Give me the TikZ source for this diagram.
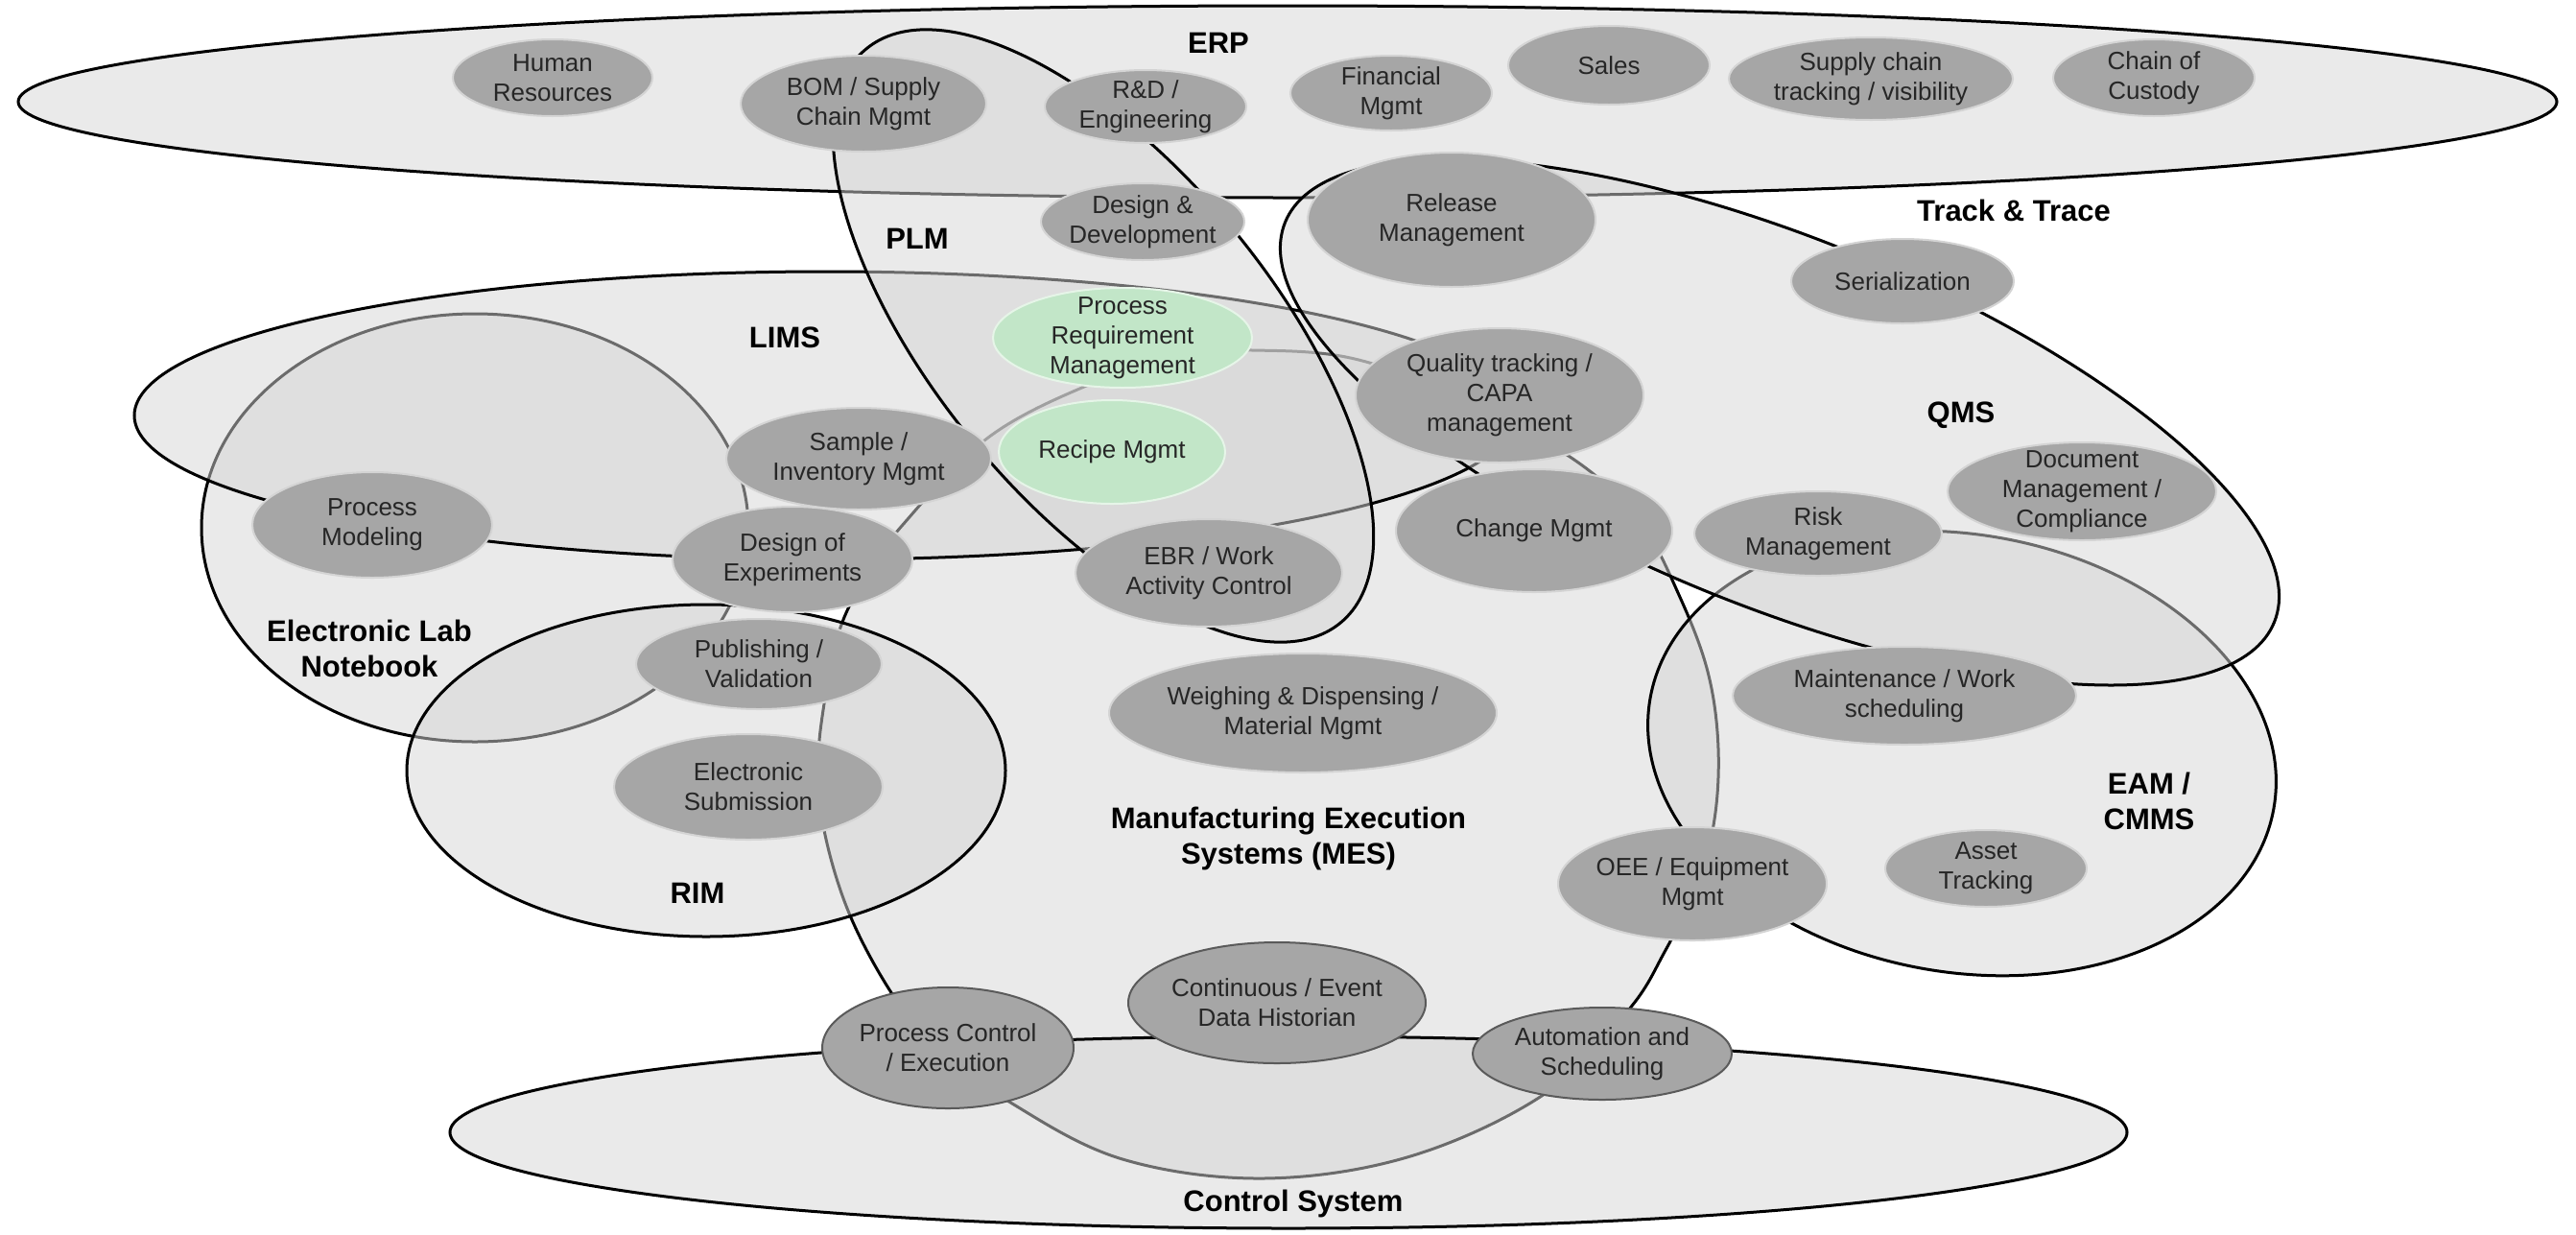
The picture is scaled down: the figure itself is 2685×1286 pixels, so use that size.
\documentclass[tikz,border=0pt]{standalone}
\usepackage{fontspec}
\setmainfont{Liberation Sans}
\usetikzlibrary{shapes.geometric}

\definecolor{zonefill}{HTML}{D6D6D6}
\definecolor{bubblefill}{HTML}{A6A6A6}
\definecolor{bubbleedge}{HTML}{D4D4D4}
\definecolor{greenfill}{HTML}{C2E6C8}
\definecolor{greenedge}{HTML}{E6F5E8}
\definecolor{darkedge}{HTML}{5A5A5A}
\definecolor{bubbletext}{HTML}{262626}

\begin{document}
\begin{tikzpicture}[x=1pt, y=-1pt,
  zone/.style={draw=black, line width=3pt, fill=zonefill, fill opacity=0.5},
  bubble/.style n args={2}{ellipse, inner sep=0pt, minimum width=2*#1, minimum height=2*#2,
    fill=bubblefill, draw=bubbleedge, line width=2pt},
  greenbubble/.style={fill=greenfill, draw=greenedge},
  ctrlbubble/.style={draw=darkedge},
  btext/.style={align=center, inner sep=0pt, text=bubbletext, font=\fontsize{26}{31}\selectfont},
  zonelabel/.style={align=center, inner sep=0pt, text=black, font=\fontsize{31}{37}\selectfont\bfseries},
]
\useasboundingbox (0,0) rectangle (2685,1286);
\fill[white] (0,0) rectangle (2685,1286);

% ---- system zones, back to front ----
% Manufacturing Execution Systems
\filldraw[zone] plot[smooth cycle, tension=0.6] coordinates {
  (1030,456) (1137,400) (1230,370) (1305,365) (1412,374) (1530,418) (1645,482)
  (1710,545) (1750,620) (1780,700) (1791,780) (1786,860) (1765,930) (1735,992)
  (1697,1053) (1610,1140) (1470,1205) (1317,1228) (1170,1208) (1055,1150)
  (975,1090) (930,1036) (886,954) (860,870) (853,800) (858,740) (874,660)
  (900,605) (940,548)};
% Electronic Lab Notebook
\filldraw[zone] (495,550) ellipse [x radius=285, y radius=223];
% LIMS
\filldraw[zone] (860,433) ellipse [x radius=720, y radius=150];
% ERP
\filldraw[zone] (1342,106) ellipse [x radius=1323, y radius=100];
% PLM
\filldraw[zone, rotate around={-50.4:(1150,350)}] (1150,350) ellipse [x radius=388, y radius=175];
% RIM
\filldraw[zone] (736,803) ellipse [x radius=312, y radius=173];
% EAM / CMMS
\filldraw[zone, rotate around={-10:(2045,785)}] (2045,785) ellipse [x radius=330, y radius=228];
% Track & Trace / QMS
\filldraw[zone, rotate around={-22:(1855,440)}] (1855,440) ellipse [x radius=556, y radius=192];
% Control System
\filldraw[zone] (1343,1180) ellipse [x radius=874, y radius=100];

% ---- zone labels ----
\node[zonelabel] (lerp) at (1270,45) {ERP};
\node[zonelabel] (lplm) at (956,249) {PLM};
\node[zonelabel] (llims) at (818,352) {LIMS};
\node[zonelabel] (leln) at (385,676) {Electronic Lab\\Notebook};
\node[zonelabel] (lrim) at (727,931) {RIM};
\node[zonelabel] (lmes) at (1343,874) {Manufacturing Execution\\Systems (MES)};
\node[zonelabel] (lctrl) at (1348,1254) {Control System};
\node[zonelabel] (ltt) at (2099,219) {Track \& Trace};
\node[zonelabel] (lqms) at (2044,433) {QMS};
\node[zonelabel] (leam) at (2240,835) {EAM /\\CMMS};

% ---- functions ----
\node[bubble={104}{40}] (hr) at (576,81) {};
\node[btext] (hr-t) at (hr) {Human\\Resources};
\node[bubble={128}{50}] (bom) at (900,108) {};
\node[btext] (bom-t) at (bom) {BOM / Supply\\Chain Mgmt};
\node[bubble={105}{38}] (rnd) at (1194,111) {};
\node[btext] (rnd-t) at (rnd) {R\&D /\\Engineering};
\node[bubble={105}{39}] (fin) at (1450,97) {};
\node[btext] (fin-t) at (fin) {Financial\\Mgmt};
\node[bubble={105}{41}] (sales) at (1677,68) {};
\node[btext] (sales-t) at (sales) {Sales};
\node[bubble={148}{43}] (sct) at (1950,82) {};
\node[btext] (sct-t) at (sct) {Supply chain\\tracking / visibility};
\node[bubble={105}{40}] (coc) at (2245,81) {};
\node[btext] (coc-t) at (coc) {Chain of\\Custody};
\node[bubble={106}{40}] (dd) at (1191,231) {};
\node[btext] (dd-t) at (dd) {Design \&\\Development};
\node[bubble={150}{70}] (rel) at (1513,229) {};
\node[btext] (rel-t) at (rel) {Release\\Management};
\node[bubble={116}{44}] (ser) at (1983,293) {};
\node[btext] (ser-t) at (ser) {Serialization};
\node[bubble={135}{52}, greenbubble] (prm) at (1170,352) {};
\node[btext] (prm-t) at (prm) {Process\\Requirement\\Management};
\node[bubble={118}{54}, greenbubble] (rec) at (1159,471) {};
\node[btext] (rec-t) at (rec) {Recipe Mgmt};
\node[bubble={150}{70}] (qt) at (1563,412) {};
\node[btext] (qt-t) at (qt) {Quality tracking /\\CAPA\\management};
\node[bubble={138}{53}] (si) at (895,478) {};
\node[btext] (si-t) at (si) {Sample /\\Inventory Mgmt};
\node[bubble={125}{55}] (pm) at (388,547) {};
\node[btext] (pm-t) at (pm) {Process\\Modeling};
\node[bubble={125}{55}] (doe) at (826,583) {};
\node[btext] (doe-t) at (doe) {Design of\\Experiments};
\node[bubble={139}{56}] (ebr) at (1260,597) {};
\node[btext] (ebr-t) at (ebr) {EBR / Work\\Activity Control};
\node[bubble={144}{64}] (cm) at (1599,553) {};
\node[btext] (cm-t) at (cm) {Change Mgmt};
\node[bubble={129}{44}] (risk) at (1895,556) {};
\node[btext] (risk-t) at (risk) {Risk\\Management};
\node[bubble={140}{51}] (doc) at (2170,512) {};
\node[btext] (doc-t) at (doc) {Document\\Management /\\Compliance};
\node[bubble={179}{51}] (mw) at (1985,725) {};
\node[btext] (mw-t) at (mw) {Maintenance / Work\\scheduling};
\node[bubble={105}{40}] (asset) at (2070,905) {};
\node[btext] (asset-t) at (asset) {Asset\\Tracking};
\node[bubble={140}{59}] (oee) at (1764,921) {};
\node[btext] (oee-t) at (oee) {OEE / Equipment\\Mgmt};
\node[bubble={202}{62}] (wd) at (1358,743) {};
\node[btext] (wd-t) at (wd) {Weighing \& Dispensing /\\Material Mgmt};
\node[bubble={128}{47}] (pub) at (791,692) {};
\node[btext] (pub-t) at (pub) {Publishing /\\Validation};
\node[bubble={140}{55}] (esub) at (780,820) {};
\node[btext] (esub-t) at (esub) {Electronic\\Submission};
\node[bubble={131}{63}, ctrlbubble] (pce) at (988,1092) {};
\node[btext] (pce-t) at (pce) {Process Control\\/ Execution};
\node[bubble={155}{63}, ctrlbubble] (cdh) at (1331,1045) {};
\node[btext] (cdh-t) at (cdh) {Continuous / Event\\Data Historian};
\node[bubble={135}{48}, ctrlbubble] (auto) at (1670,1098) {};
\node[btext] (auto-t) at (auto) {Automation and\\Scheduling};
\end{tikzpicture}
\end{document}
